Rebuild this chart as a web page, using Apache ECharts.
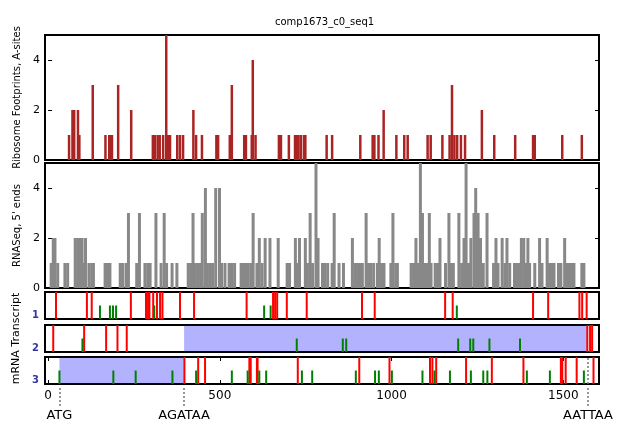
<!DOCTYPE html>
<html><head><meta charset="utf-8">
<script src="https://cdn.jsdelivr.net/npm/echarts@6/dist/echarts.min.js"></script>
<style>html,body{margin:0;padding:0;background:#fff}#c{width:617px;height:426px}</style>
</head><body><div id="c"></div>
<script>
const chartTitle = 'comp1673_c0_seq1';
const xMin = -9, xMax = 1604;
const xTicks = [0, 500, 1000, 1500];
const countTicks = [0, 2, 4];
const riboLabel = 'Ribosome Footprints, A-sites';
const rnaLabel = "RNASeq, 5' ends";
const mrnaLabel = 'mRNA Transcript';

// [position, count]
const ribosomeBars = [[61,1],[71,2],[76,2],[87,2],[91,1],[130,3],[167,1],[178,1],[182,1],[186,1],[204,3],[242,2],[305,1],[311,1],[319,1],[325,1],[335,1],[344,5],[349,1],[355,1],[376,1],[384,1],[393,1],[423,2],[431,1],[448,1],[490,1],[495,1],[529,1],[535,3],[571,1],[576,1],[593,1],[596,4],[604,1],[672,1],[678,1],[701,1],[719,1],[724,1],[729,1],[736,1],[745,1],[749,1],[811,1],[827,1],[909,1],[945,1],[950,1],[962,1],[977,2],[1014,1],[1037,1],[1047,1],[1105,1],[1114,1],[1148,1],[1169,1],[1176,3],[1183,1],[1191,1],[1202,1],[1214,1],[1263,2],[1299,1],[1360,1],[1412,1],[1417,1],[1497,1],[1554,1]];

const rnaseqBars = [[9,1],[15,2],[20,2],[28,1],[49,1],[57,1],[79,2],[86,2],[93,2],[99,2],[105,1],[109,2],[119,1],[127,1],[132,1],[166,1],[173,1],[180,1],[210,1],[217,1],[227,1],[234,3],[258,1],[266,3],[282,1],[290,1],[297,1],[314,3],[329,1],[338,3],[345,1],[361,1],[375,1],[408,1],[415,1],[422,3],[429,1],[437,1],[444,1],[449,3],[458,4],[464,1],[472,1],[479,1],[488,4],[499,4],[505,1],[515,1],[527,1],[534,1],[543,1],[562,1],[569,1],[576,1],[583,1],[591,1],[597,3],[608,1],[615,2],[623,1],[632,2],[646,2],[670,2],[696,1],[703,1],[720,2],[726,1],[732,2],[749,2],[755,1],[763,3],[770,1],[780,5],[786,2],[799,1],[806,1],[814,1],[827,1],[833,3],[847,1],[860,1],[886,2],[894,1],[901,1],[908,1],[915,1],[926,3],[933,1],[940,1],[948,1],[959,1],[964,2],[971,1],[978,1],[998,1],[1004,3],[1012,1],[1017,1],[1057,1],[1064,1],[1071,2],[1078,1],[1084,5],[1090,3],[1096,1],[1103,1],[1110,3],[1115,1],[1127,1],[1134,1],[1141,2],[1157,1],[1167,3],[1173,1],[1180,1],[1196,3],[1204,1],[1211,2],[1217,5],[1224,1],[1231,2],[1240,3],[1245,4],[1252,3],[1259,2],[1267,1],[1278,3],[1297,1],[1304,2],[1310,1],[1322,2],[1330,1],[1336,2],[1344,1],[1358,1],[1365,1],[1372,1],[1378,2],[1385,2],[1391,1],[1397,2],[1402,1],[1417,1],[1431,2],[1438,1],[1453,2],[1460,1],[1467,1],[1473,1],[1486,1],[1493,1],[1504,2],[1511,1],[1518,1],[1525,1],[1531,1],[1554,1],[1560,1]];

const frame1Stops = [23,113,127,241,285,291,295,306,317,326,333,384,425,578,655,661,667,695,753,914,951,1156,1178,1412,1456,1547,1555,1568];
const frame1Starts = [151,180,189,198,309,629,648,1190];
const frame2Stops = [15,105,169,202,229,1570,1578,1584];
const frame2Starts = [100,724,858,868,1194,1229,1238,1285,1374];
const frame3Stops = [397,437,457,586,590,608,610,727,906,994,1112,1119,1130,1217,1292,1384,1493,1497,1507,1539,1588];
const frame3Starts = [33,190,255,362,431,535,581,615,635,739,769,896,952,963,1001,1090,1125,1170,1231,1267,1279,1394,1461,1560];
const frame2Orf = [396, 1572];
const frame3Orf = [33, 396];
const frameNames = ['1','2','3'];
const markers = [{name:'ATG', pos:33},{name:'AGATAA', pos:396},{name:'AATTAA', pos:1572}];

const FONT = 'DejaVu Sans';
const frames = [
  {stops: frame1Stops, starts: frame1Starts, orf: null},
  {stops: frame2Stops, starts: frame2Starts, orf: frame2Orf},
  {stops: frame3Stops, starts: frame3Starts, orf: frame3Orf}
];

const L = 45, W = 554;
const gridBase = {left: L, width: W, show: true, borderColor: '#000', borderWidth: 2, backgroundColor: '#fff'};
const grids = [
  Object.assign({top: 35, height: 125}, gridBase),
  Object.assign({top: 163, height: 125}, gridBase),
  Object.assign({top: 292, height: 27}, gridBase),
  Object.assign({top: 325, height: 27}, gridBase),
  Object.assign({top: 357, height: 27}, gridBase),
  {left: L, width: W, top: 386, height: 20, show: false}
];

function hiddenX(i) {
  return {type:'value', gridIndex:i, min:xMin, max:xMax, axisLine:{show:false}, axisTick:{show:false}, axisLabel:{show:false}, splitLine:{show:false}};
}
const xAxes = grids.map((g,i)=>hiddenX(i));
xAxes[4] = {type:'value', gridIndex:4, min:xMin, max:xMax, axisLine:{show:false}, splitLine:{show:false},
  axisTick:{show:true, inside:true, length:4, customValues:xTicks, lineStyle:{color:'#000', width:1}},
  axisLabel:{show:true, customValues:xTicks, formatter:(v)=>String(v), fontFamily:FONT, fontSize:12, color:'#000', margin:6}};
xAxes.push({type:'value', gridIndex:4, position:'top', min:xMin, max:xMax, axisLine:{show:false}, splitLine:{show:false},
  axisTick:{show:true, inside:true, length:4, customValues:xTicks, lineStyle:{color:'#000', width:1}}, axisLabel:{show:false}});

function countY(i, name, right) {
  return {type:'value', gridIndex:i, min:0, max:5, position: right?'right':'left',
    axisLine:{show:false}, splitLine:{show:false},
    axisTick:{show:true, inside:true, length:4, customValues:countTicks, lineStyle:{color:'#000'}},
    axisLabel:{show:!right, customValues:countTicks, formatter:(v)=>String(v), fontFamily:FONT, fontSize:11, color:'#000', margin:5},
    name: right ? '' : name, nameLocation:'middle', nameGap:23, nameRotate:90,
    nameTextStyle:{fontFamily:FONT, fontSize:10, color:'#000'}};
}
function frameY(i, label, name) {
  return {type:'value', gridIndex:i, min:0, max:1, axisLine:{show:false}, splitLine:{show:false}, axisTick:{show:false},
    axisLabel:{show:true, customValues:[0.15], formatter:()=>label, fontFamily:FONT, fontSize:10, fontWeight:'bold', color:'#3535a8', margin:6},
    name: name||'', nameLocation:'middle', nameGap:22, nameRotate:90,
    nameTextStyle:{fontFamily:FONT, fontSize:11, color:'#000'}};
}
const yAxes = [
  countY(0, riboLabel, false),
  countY(1, rnaLabel, false),
  frameY(2, frameNames[0]),
  frameY(3, frameNames[1], mrnaLabel),
  frameY(4, frameNames[2]),
  {type:'value', gridIndex:5, min:0, max:1, show:false},
  countY(0, '', true),
  countY(1, '', true)
];

const series = [
  {type:'bar', xAxisIndex:0, yAxisIndex:0, data:ribosomeBars, barWidth:2.5, itemStyle:{color:'#aa2424'}, silent:true, animation:false},
  {type:'bar', xAxisIndex:1, yAxisIndex:1, data:rnaseqBars, barWidth:3, itemStyle:{color:'#888888'}, silent:true, animation:false}
];
frames.forEach((f, k) => {
  const ax = 2 + k;
  series.push({type:'bar', xAxisIndex:ax, yAxisIndex:ax, data:f.stops.map(p=>[p,1]), barWidth:2, barGap:'-100%', z:2, itemStyle:{color:'#ff0000'}, animation:false});
  series.push({type:'bar', xAxisIndex:ax, yAxisIndex:ax, data:f.starts.map(p=>[p,0.5]), barWidth:2, barGap:'-100%', z:2, itemStyle:{color:'#008000'}, animation:false});
  const s = {type:'line', xAxisIndex:ax, yAxisIndex:ax, data:[], zlevel:1, z:5, animation:false};
  if (f.orf) s.markArea = {silent:true, itemStyle:{color:'rgba(0,0,255,0.3)'}, data:[[{xAxis:f.orf[0]},{xAxis:f.orf[1]}]]};
  if (k === 2) s.markLine = {silent:true, symbol:'none', label:{show:false}, lineStyle:{color:'#777', type:[2,2], width:1.5}, data:[{xAxis:markers[2].pos}]};
  series.push(s);
});
series.push({type:'scatter', xAxisIndex:5, yAxisIndex:5, data:markers.map(m=>[m.pos,0]), symbolSize:0, animation:false,
  markLine:{silent:true, symbol:'none', animation:false,
    lineStyle:{color:'#777', type:[2,2], width:1.5},
    label:{show:true, position:'start', formatter:'{b}', fontFamily:FONT, fontSize:13, color:'#000', distance:3},
    data:markers.map(m=>({xAxis:m.pos, name:m.name}))}});

const chart = echarts.init(document.getElementById('c'), null, {renderer:'canvas'});
chart.setOption({
  backgroundColor:'#fff',
  animation:false,
  title:{text:chartTitle, left:270, top:12, textStyle:{fontFamily:FONT, fontSize:10, fontWeight:'normal', color:'#000'}},
  grid:grids, xAxis:xAxes, yAxis:yAxes, series:series
});
</script></body></html>
